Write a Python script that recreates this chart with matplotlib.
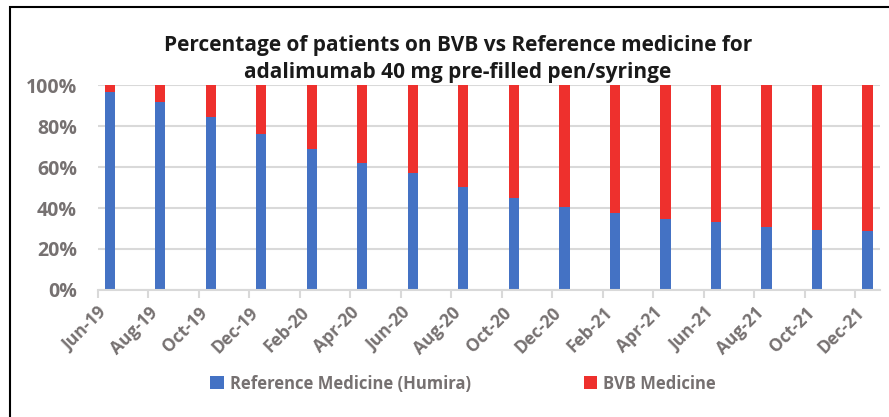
import matplotlib.pyplot as plt
from matplotlib.patches import Rectangle
from matplotlib.ticker import PercentFormatter

# Data (share of patients, %)
months = ['Jun-19', 'Aug-19', 'Oct-19', 'Dec-19', 'Feb-20', 'Apr-20', 'Jun-20', 'Aug-20',
          'Oct-20', 'Dec-20', 'Feb-21', 'Apr-21', 'Jun-21', 'Aug-21', 'Oct-21', 'Dec-21']
reference_pct = [96.7, 91.7, 84.3, 76.2, 68.6, 62.1, 56.9, 50.4,
                 45.0, 40.7, 37.6, 34.4, 33.3, 30.7, 29.5, 28.6]
bvb_pct = [100 - v for v in reference_pct]

blue = '#4472c4'
red = '#ee302d'
grey_text = '#767171'
plt.rcParams['font.family'] = ['Open Sans', 'DejaVu Sans']

fig = plt.figure(figsize=(8.89, 4.17), dpi=100)
ax = fig.add_axes([0.110, 0.3046, 0.880, 0.4914])

x = [i + 0.24 for i in range(len(months))]
ax.bar(x, reference_pct, width=0.2, color=blue, label='Reference Medicine (Humira)', zorder=3)
ax.bar(x, bvb_pct, width=0.2, bottom=reference_pct, color=red, label='BVB Medicine', zorder=3)

ax.set_xlim(0, 15.49)
ax.set_ylim(0, 100)
ax.set_yticks([0, 20, 40, 60, 80, 100])
ax.yaxis.set_major_formatter(PercentFormatter(decimals=0))
ax.set_xticks(range(len(months)))
ax.set_xticklabels(months, rotation=45, ha='right', rotation_mode='anchor')

ax.grid(axis='y', color='#d9d9d9', linewidth=1.5, zorder=0)
for s in ['top', 'right', 'left']:
    ax.spines[s].set_visible(False)
ax.spines['bottom'].set_color('#d9d9d9')
ax.spines['bottom'].set_linewidth(1.5)
ax.spines['bottom'].set_zorder(4)
ax.tick_params(axis='y', length=0, pad=15, labelsize=14, labelcolor=grey_text)
ax.tick_params(axis='x', length=6, width=1.5, color='#d9d9d9', pad=4,
               labelsize=12.5, labelcolor=grey_text)
for lbl in ax.get_xticklabels() + ax.get_yticklabels():
    lbl.set_fontweight('bold')

fig.text(0.515, 0.858, 'Percentage of patients on BVB vs Reference medicine for\n'
         'adalimumab 40 mg pre-filled pen/syringe', ha='center', va='center',
         fontsize=15, fontweight='bold', color='#1a1a1a', linespacing=1.4)

leg = fig.legend(loc='center', bbox_to_anchor=(0.521, 0.08), ncol=2, frameon=False,
                 fontsize=12, handlelength=0.8, handleheight=0.8, handletextpad=0.35,
                 columnspacing=6.8)
for t in leg.get_texts():
    t.set_color(grey_text)
    t.set_fontweight('bold')

# outer chart border (left and top visible)
fig.patches.append(Rectangle((10 / 889, -0.1), 1.2, 1.1 - 7 / 417 + 0.0,
                             transform=fig.transFigure, fill=False,
                             edgecolor='black', linewidth=1.5))

fig.savefig('out.png', dpi=100)
